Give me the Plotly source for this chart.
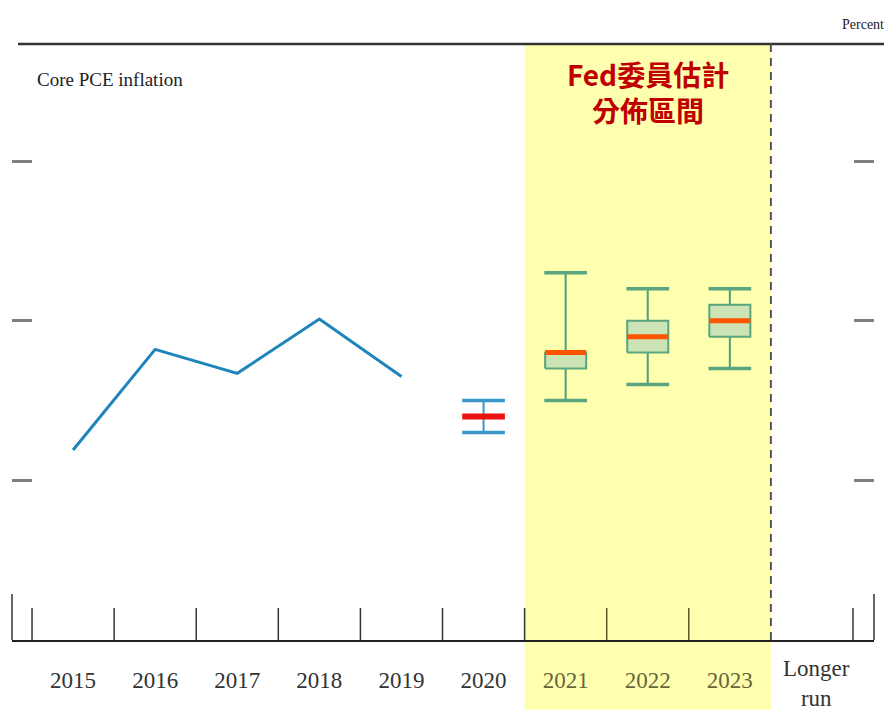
import plotly.graph_objects as go

# ---- data ----
categories = ["2015", "2016", "2017", "2018", "2019", "2020", "2021", "2022", "2023", "Longer run"]
hist_years = ["2015", "2016", "2017", "2018", "2019"]
hist_values = [1.19, 1.82, 1.67, 2.01, 1.65]

proj_2020 = {"low": 1.3, "median": 1.4, "high": 1.5}

proj_years = ["2021", "2022", "2023"]
range_low = [1.5, 1.6, 1.7]
range_high = [2.3, 2.2, 2.2]
ct_low = [1.7, 1.8, 1.9]
ct_high = [1.8, 2.0, 2.1]
medians = [1.8, 1.9, 2.0]

y_ticks = [1, 2, 3]
band_title = "Fed委員估計<br>分佈區間"

# ---- helpers ----
idx = {c: i for i, c in enumerate(categories)}
BOX_W = 0.5
CAP_W = 0.52

fig = go.Figure()

# historical line
fig.add_trace(go.Scatter(
    x=[idx[y] for y in hist_years], y=hist_values, mode="lines",
    line=dict(color="#1E84BA", width=3), hoverinfo="skip", showlegend=False))

# 2020 range
c = idx["2020"]
fig.add_trace(go.Scatter(
    x=[c, c], y=[proj_2020["low"], proj_2020["high"]], mode="lines",
    line=dict(color="#3A97CB", width=2), showlegend=False, hoverinfo="skip"))
fig.add_trace(go.Scatter(
    x=[c - CAP_W / 2, c + CAP_W / 2, None, c - CAP_W / 2, c + CAP_W / 2],
    y=[proj_2020["low"], proj_2020["low"], None, proj_2020["high"], proj_2020["high"]],
    mode="lines", line=dict(color="#3A97CB", width=3.5), showlegend=False, hoverinfo="skip"))
fig.add_trace(go.Scatter(
    x=[c - CAP_W / 2, c + CAP_W / 2], y=[proj_2020["median"]] * 2, mode="lines",
    line=dict(color="#EE1111", width=6), showlegend=False, hoverinfo="skip"))

# projections boxes
stem_x, stem_y, cap_x, cap_y = [], [], [], []
for yr, lo, hi in zip(proj_years, range_low, range_high):
    c = idx[yr]
    stem_x += [c, c, None]
    stem_y += [lo, hi, None]
    cap_x += [c - CAP_W / 2, c + CAP_W / 2, None, c - CAP_W / 2, c + CAP_W / 2, None]
    cap_y += [lo, lo, None, hi, hi, None]
fig.add_trace(go.Scatter(x=stem_x, y=stem_y, mode="lines",
                         line=dict(color="#4E9E7E", width=2), showlegend=False, hoverinfo="skip"))
fig.add_trace(go.Scatter(x=cap_x, y=cap_y, mode="lines",
                         line=dict(color="#5AA57F", width=3.5), showlegend=False, hoverinfo="skip"))
for yr, ql, qh, md in zip(proj_years, ct_low, ct_high, medians):
    c = idx[yr]
    fig.add_trace(go.Scatter(
        x=[c - BOX_W / 2, c + BOX_W / 2, c + BOX_W / 2, c - BOX_W / 2, c - BOX_W / 2],
        y=[ql, ql, qh, qh, ql], mode="lines", fill="toself", fillcolor="#CBE3B5",
        line=dict(color="#5AA57C", width=2), showlegend=False, hoverinfo="skip"))
    fig.add_trace(go.Scatter(
        x=[c - BOX_W / 2, c + BOX_W / 2], y=[md, md], mode="lines",
        line=dict(color="#FF5500", width=5), showlegend=False, hoverinfo="skip"))

# ---- shapes ----
shapes = []
# yellow band
shapes.append(dict(type="rect", xref="x", yref="paper", x0=idx["2021"] - 0.5, x1=idx["2023"] + 0.5,
                   y0=-0.117, y1=1.0, fillcolor="#FFFFB0", line=dict(width=0), layer="below"))
# top rule
shapes.append(dict(type="line", xref="paper", yref="paper", x0=0.007, x1=1.0116, y0=1.0, y1=1.0,
                   line=dict(color="#333333", width=2.5)))
# boundary ticks on x axis
tick_h = 32 / 159.67
for i, cname in enumerate(categories):
    if cname == "Longer run":
        continue
    b = i - 0.5
    col = "#55552A" if cname in ("2022", "2023") else "#333333"
    shapes.append(dict(type="line", xref="x", yref="y", x0=b, x1=b, y0=0, y1=tick_h,
                       line=dict(color=col, width=1.5)))
last = len(categories) - 0.5
shapes.append(dict(type="line", xref="x", yref="y", x0=last, x1=last, y0=0, y1=tick_h,
                   line=dict(color="#333333", width=1.5)))
# edge verticals
edge_h = 46 / 159.67
for px in (0, 1):
    shapes.append(dict(type="line", xref="paper", yref="y", x0=px, x1=px, y0=0, y1=edge_h,
                       line=dict(color="#333333", width=1.5)))
# dashed separator
sep = idx["Longer run"] - 0.5
shapes.append(dict(type="line", xref="x", yref="paper", x0=sep, x1=sep, y0=0, y1=1,
                   line=dict(color="#555555", width=2, dash="8px,6px")))

tick_text = []
for cname in categories:
    if cname in proj_years:
        tick_text.append(f"<span style='color:#66663A'>{cname}</span>")
    elif cname == "Longer run":
        tick_text.append("")
    else:
        tick_text.append(cname)

annotations = [
    dict(text="Core PCE inflation", xref="paper", yref="paper", x=0.0267, y=0.9396,
         xanchor="left", yanchor="middle", showarrow=False,
         font=dict(family="Liberation Serif", size=19, color="#222222")),
    dict(text="Percent", xref="paper", yref="paper", x=1.0139, y=1.032,
         xanchor="right", yanchor="middle", showarrow=False,
         font=dict(family="Liberation Serif", size=14, color="#222222")),
    dict(text=f"<b>{band_title}</b>", xref="x", yref="paper", x=idx["2022"],
         y=(640 - 92) / 596, xanchor="center", yanchor="middle", showarrow=False,
         font=dict(family="Noto Sans CJK TC", size=28, color="#C00000")),
    dict(text="Longer<br>run", xref="x", yref="paper", x=idx["Longer run"] + 0.06,
         y=(640 - 654) / 596, xanchor="center", yanchor="top", showarrow=False,
         font=dict(family="Liberation Serif", size=23, color="#333333")),
]

fig.update_layout(
    width=887, height=721,
    margin=dict(l=12, r=13, t=44, b=81, autoexpand=False),
    paper_bgcolor="white", plot_bgcolor="rgba(0,0,0,0)",
    shapes=shapes,
    showlegend=False,
    xaxis=dict(range=[-0.744, 9.756], tickvals=list(range(len(categories))), ticktext=tick_text,
               ticks="", ticklabelstandoff=18, automargin=False, showgrid=False, zeroline=False,
               showline=True, linecolor="#222222", linewidth=2,
               tickfont=dict(family="Liberation Serif", size=23, color="#333333"),
               fixedrange=True),
    yaxis=dict(range=[0, 3.733], tickvals=y_ticks, showticklabels=False, ticks="inside",
               ticklen=20, tickwidth=3, tickcolor="#808080", mirror="ticks", showline=False,
               automargin=False, showgrid=False, zeroline=False, fixedrange=True),
    annotations=annotations,
)

fig.write_html("out.html", config={"displayModeBar": False},
               post_script="document.body.style.margin='0';")
